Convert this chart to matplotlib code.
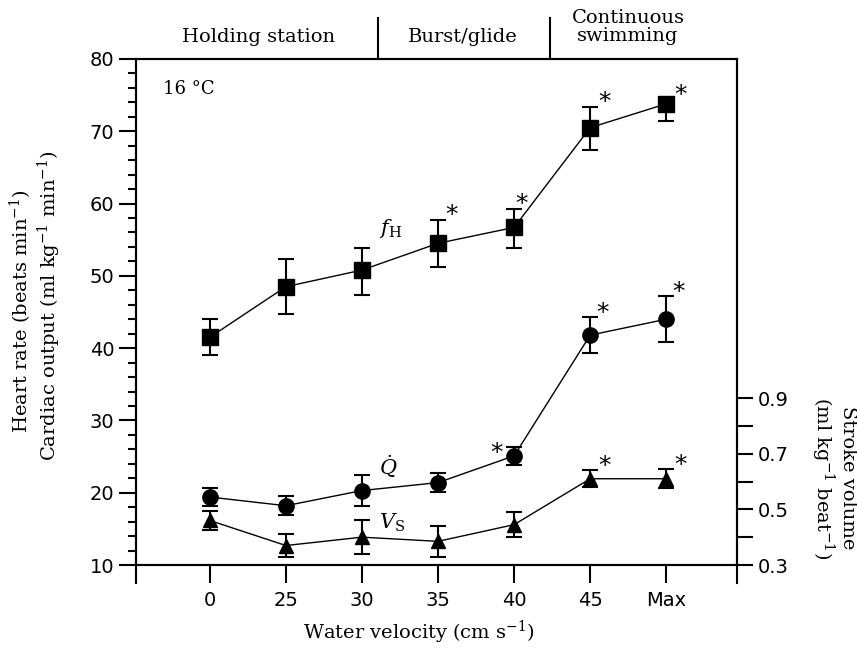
import matplotlib
matplotlib.use('Agg')
import matplotlib.pyplot as plt
from matplotlib.ticker import MultipleLocator
import numpy as np

# values
velocity = ['0', '25', '30', '35', '40', '45', 'Max']

heart_rate = [41.5, 48.5, 50.8, 54.5, 56.7, 70.5, 73.8]
heart_rate_lo = [2.5, 3.8, 3.5, 3.3, 2.9, 3.1, 2.4]
heart_rate_hi = [2.5, 3.8, 3.0, 3.2, 2.5, 2.8, 0.5]
heart_rate_sig = [0, 0, 0, 1, 1, 1, 1]

cardiac_output = [19.4, 18.2, 20.3, 21.4, 25.1, 41.8, 44.0]
cardiac_output_err = [1.3, 1.3, 2.1, 1.3, 1.2, 2.5, 3.2]
cardiac_output_sig = [0, 0, 0, 0, 1, 1, 1]

stroke_volume = [0.46, 0.37, 0.40, 0.385, 0.445, 0.61, 0.61]
stroke_volume_err = [0.035, 0.04, 0.06, 0.055, 0.045, 0.03, 0.035]
stroke_volume_sig = [0, 0, 0, 0, 0, 1, 1]

zones = ['Holding station', 'Burst/glide', 'Continuous\nswimming']

serif = 'DejaVu Serif'
plt.rcParams['mathtext.fontset'] = 'dejavuserif'

fig = plt.figure(figsize=(8.57, 6.51), dpi=100)
ax = fig.add_axes([0.1587, 0.1321, 0.7013, 0.7773])
x = np.arange(len(velocity))

ax.set_xlim(-0.97, 6.93)
ax.set_ylim(10, 80)

# right axis for stroke volume, 10 -> 0.3 and 33.1 -> 0.9 on the left scale
k = 0.6 / 23.1
ax2 = ax.twinx()
ax2.set_ylim(0.3, 0.3 + 70 * k)

def draw(a, y, lo, hi, marker, ms):
    a.plot(x, y, color='black', lw=1.0, zorder=2)
    a.errorbar(x, y, yerr=[lo, hi], fmt=marker, color='black', ms=ms,
               ecolor='black', elinewidth=1.5, capsize=6, capthick=1.5, zorder=3)

draw(ax, heart_rate, heart_rate_lo, heart_rate_hi, 's', 11.5)
draw(ax, cardiac_output, cardiac_output_err, cardiac_output_err, 'o', 11)
draw(ax2, stroke_volume, stroke_volume_err, stroke_volume_err, '^', 10)

# asterisks for significant differences
def star(a, xi, yi, dx, dy):
    a.annotate('*', xy=(xi, yi), xytext=(dx, dy), textcoords='offset points',
               ha='center', va='center', fontsize=18, family='DejaVu Sans')

for i in range(len(heart_rate_sig)):
    if heart_rate_sig[i]:
        dx = 5 if velocity[i] == '40' else 10
        star(ax, x[i], heart_rate[i] + heart_rate_hi[i], dx, 4)
for i in range(len(cardiac_output_sig)):
    if cardiac_output_sig[i]:
        dx = -13 if velocity[i] == '40' else 9
        dy = -4 if velocity[i] == '40' else 3
        star(ax, x[i], cardiac_output[i] + cardiac_output_err[i], dx, dy)
for i in range(len(stroke_volume_sig)):
    if stroke_volume_sig[i]:
        star(ax2, x[i], stroke_volume[i] + stroke_volume_err[i], 10, 3)

# series labels
ax.text(2.22, 56.5, r'$f_\mathrm{H}$', fontsize=15, ha='left', va='center')
ax.text(2.22, 23.6, r'$\dot{Q}$', fontsize=15, ha='left', va='center')
ax.text(2.22, 15.9, r'$V_\mathrm{S}$', fontsize=15, ha='left', va='center')
ax.text(0.045, 0.93, '16 °C', transform=ax.transAxes, fontsize=13, family=serif)

# ticks
ax.set_xticks(x)
ax.set_xticklabels(velocity)
ax.yaxis.set_major_locator(MultipleLocator(10))
ax.yaxis.set_minor_locator(MultipleLocator(2))
ax.tick_params(axis='y', which='major', direction='out', length=12, width=1.5,
               labelsize=14, right=False)
ax.tick_params(axis='y', which='minor', direction='out', length=6, width=1.5)
ax.tick_params(axis='x', direction='out', length=13, width=1.5, labelsize=14,
               pad=6, top=False)

sv_ticks = [0.3, 0.4, 0.5, 0.6, 0.7, 0.8, 0.9]
ax2.set_yticks(sv_ticks)
ax2.set_yticklabels(['0.3', '', '0.5', '', '0.7', '', '0.9'])
ax2.tick_params(axis='y', direction='out', length=11.5, width=1.5, labelsize=14)

for a in (ax, ax2):
    for s in a.spines.values():
        s.set_linewidth(1.5)

# spines run on below the x axis
drop = -18 / 506
for xa in (0, 1):
    ax.plot([xa, xa], [0, drop], transform=ax.transAxes, color='black',
            lw=1.5, clip_on=False)

# swimming mode band above the plot
for xa in (0.4027, 0.689):
    ax.plot([xa, xa], [1, 1.081], transform=ax.transAxes, color='black',
            lw=1.5, clip_on=False)
zone_x = [0.2047, 0.544, 0.8186]
zone_y = [1.0435, 1.0435, 1.063]
for zx, zy, name in zip(zone_x, zone_y, zones):
    ax.text(zx, zy, name, transform=ax.transAxes, ha='center', va='center',
            fontsize=14, family=serif, linespacing=1.0)

# axis titles
fig.text(0.024, 0.522, 'Heart rate (beats min$^{-1}$)', rotation=90,
         ha='center', va='center', fontsize=14, family=serif)
fig.text(0.058, 0.530, 'Cardiac output (ml kg$^{-1}$ min$^{-1}$)', rotation=90,
         ha='center', va='center', fontsize=14, family=serif)
fig.text(0.972, 0.266, 'Stroke volume\n(ml kg$^{-1}$ beat$^{-1}$)', rotation=270,
         ha='center', va='center', fontsize=14, family=serif, linespacing=1.1)
fig.text(0.488, 0.029, 'Water velocity (cm s$^{-1}$)', ha='center', va='center',
         fontsize=14, family=serif)

fig.savefig('out.png', dpi=100)
